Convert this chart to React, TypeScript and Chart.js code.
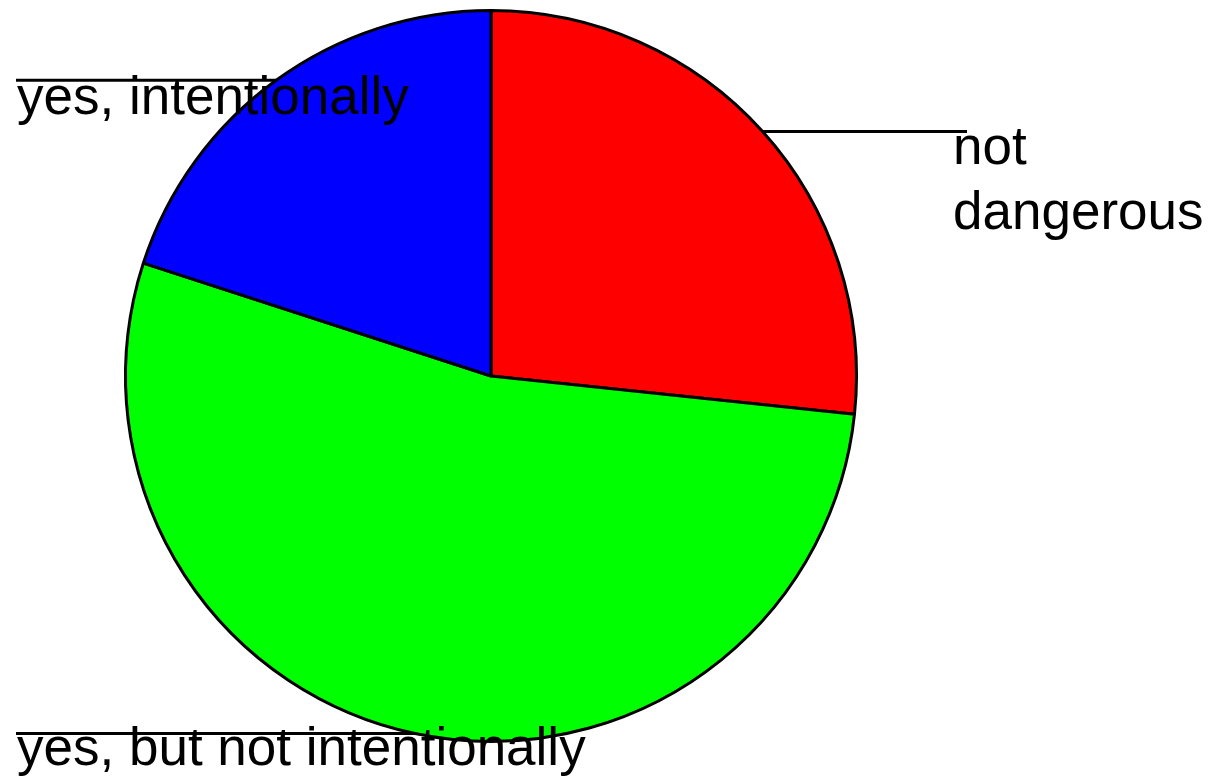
import React, { useEffect, useRef } from "react";
import { Chart, registerables } from "chart.js";

Chart.register(...registerables);

const categories: string[][] = [
  ["not", "dangerous"],
  ["yes, but not intentionally"],
  ["yes, intentionally"],
];
const values: number[] = [4, 8, 3];
const sliceColors: string[] = ["#ff0000", "#00ff00", "#0000ff"];

const labelSide: string[] = ["right", "left", "left"];
const labelDy: number[] = [33, 31, 34];

const labelPlugin = {
  id: "sideLabels",
  afterDatasetsDraw(chart: any) {
    const ctx = chart.ctx as CanvasRenderingContext2D;
    const meta = chart.getDatasetMeta(0);
    ctx.save();
    ctx.font = "53px 'Liberation Sans', Arial, sans-serif";
    ctx.fillStyle = "#000";
    ctx.strokeStyle = "#000";
    ctx.lineWidth = 3;
    ctx.textBaseline = "alphabetic";
    ctx.textAlign = "left";
    meta.data.forEach((arc: any, i: number) => {
      const p = arc.getProps(["x", "y", "startAngle", "endAngle", "outerRadius"], true);
      const mid = (p.startAngle + p.endAngle) / 2;
      const px = p.x + p.outerRadius * Math.cos(mid);
      const py = p.y + p.outerRadius * Math.sin(mid);
      const lines = categories[i];
      const right = labelSide[i] === "right";
      const endX = right ? 967 : 16;
      const textX = right ? 953 : 17;
      ctx.beginPath();
      ctx.moveTo(px, py);
      ctx.lineTo(endX, py);
      ctx.stroke();
      lines.forEach((t, k) => ctx.fillText(t, textX, py + labelDy[i] + k * 65));
    });
    ctx.restore();
  },
};

export default function App() {
  const ref = useRef<HTMLCanvasElement | null>(null);
  useEffect(() => {
    document.body.style.margin = "0";
    const chart = new Chart(ref.current as HTMLCanvasElement, {
      type: "pie",
      data: {
        labels: categories.map((l) => l.join(" ")),
        datasets: [
          {
            data: values,
            backgroundColor: sliceColors,
            borderColor: "#000",
            borderWidth: 3,
            hoverOffset: 0,
            offset: 0,
          },
        ],
      },
      options: {
        animation: false,
        responsive: false,
        maintainAspectRatio: false,
        layout: { padding: { top: 9, bottom: 35, left: 124, right: 364 } },
        plugins: {
          legend: { display: false },
          tooltip: { enabled: false },
        },
      },
      plugins: [labelPlugin],
    });
    return () => chart.destroy();
  }, []);
  return (
    <div style={{ position: "absolute", left: 0, top: 0, width: 1222, height: 778, background: "#fff" }}>
      <canvas ref={ref} width={1222} height={778} style={{ width: 1222, height: 778 }} />
    </div>
  );
}
